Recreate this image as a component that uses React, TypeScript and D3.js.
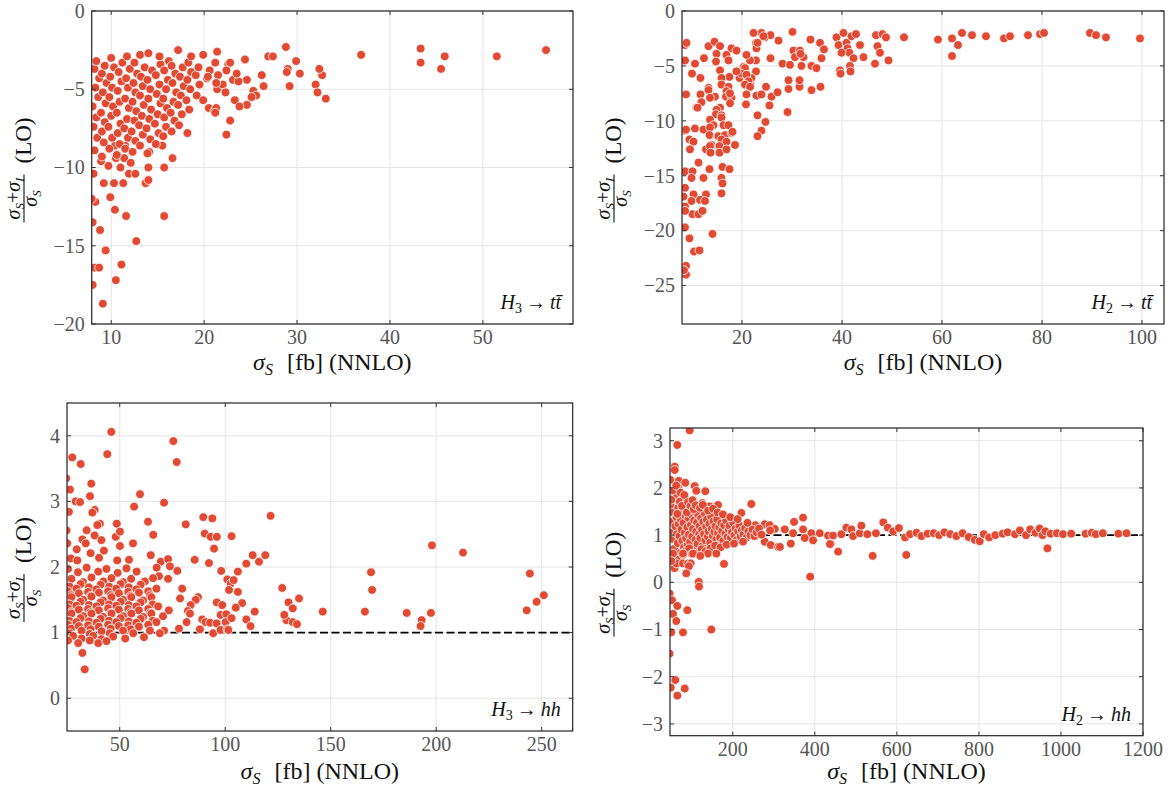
import React from 'react'
import * as d3 from 'd3'

type Pt = [number, number]

// H3 -> tt~ : sigma_S [fb] vs (sigma_S + sigma_I)/sigma_S
const h3ttPoints: Pt[] = [
  [9.1, -18.7], [10.5, -17.2], [11.1, -16.2], [8.2, -16.4], [8.7, -16.4], [8.0, -17.5], [9.4, -15.3], [12.7, -14.7],
  [8.8, -14.0], [8.0, -13.5], [11.6, -13.1], [15.7, -13.1], [10.4, -12.7], [8.3, -12.2], [9.9, -11.9], [7.9, -12.0],
  [9.2, -11.0], [10.3, -11.0], [11.3, -11.0], [13.7, -11.0], [14.0, -10.8], [8.1, -10.4], [11.9, -10.4], [12.6, -10.4],
  [11.0, -10.0], [14.0, -10.0], [15.7, -10.0], [16.6, -9.4], [10.5, -9.4], [11.4, -9.4], [12.1, -9.7], [14.1, -9.0],
  [8.9, -9.6], [9.7, -9.9], [15.5, -8.6], [11.5, -8.6], [10.4, -8.6],
  [8.2, -8.9], [8.5, -8.1], [8.1, -7.4], [8.4, -6.8], [8.0, -6.1], [8.6, -5.5], [8.3, -4.9], [8.7, -4.3], [8.2, -3.7], [8.4, -3.2],
  [9.0, -9.3], [9.2, -8.4], [9.0, -7.7], [9.3, -7.1], [8.9, -6.5], [9.4, -5.9], [9.1, -5.2], [9.5, -4.6], [9.0, -4.0], [9.3, -3.5],
  [9.8, -8.8], [10.1, -8.1], [9.7, -7.4], [10.0, -6.7], [10.2, -6.1], [9.8, -5.5], [10.1, -4.9], [9.9, -4.2], [10.3, -3.6], [10.0, -3.0],
  [10.6, -9.2], [10.9, -8.5], [10.7, -7.8], [11.0, -7.2], [10.6, -6.5], [10.9, -5.8], [10.7, -5.1], [11.1, -4.5], [10.8, -3.9], [11.2, -3.3],
  [11.5, -8.8], [11.8, -8.1], [11.4, -7.5], [11.7, -6.9], [11.9, -6.2], [11.5, -5.6], [11.8, -4.9], [11.6, -4.3], [12.0, -3.7], [11.7, -2.9],
  [12.3, -9.0], [12.6, -8.3], [12.2, -7.7], [12.5, -7.0], [12.7, -6.4], [12.3, -5.8], [12.6, -5.2], [12.4, -4.6], [12.8, -4.0], [12.5, -3.3],
  [13.1, -8.6], [13.4, -7.9], [13.0, -7.3], [13.3, -6.7], [13.5, -6.0], [13.1, -5.4], [13.4, -4.8], [13.2, -4.2], [13.6, -3.6], [13.1, -2.8],
  [13.9, -9.1], [14.2, -8.2], [13.8, -7.5], [14.1, -6.9], [14.3, -6.3], [14.0, -5.6], [14.2, -5.0], [13.9, -4.4], [14.4, -3.8], [14.0, -2.7],
  [14.8, -8.5], [15.1, -7.8], [14.7, -7.2], [15.0, -6.6], [15.3, -5.9], [14.9, -5.3], [15.2, -4.7], [14.8, -4.1], [15.3, -3.4], [15.2, -2.9],
  [15.6, -8.0], [15.9, -7.4], [15.7, -6.8], [16.0, -6.2], [15.6, -5.6], [15.9, -5.0], [16.1, -4.4], [15.7, -3.8], [16.2, -3.2],
  [16.5, -7.7], [16.8, -7.0], [16.4, -6.5], [16.7, -5.8], [17.0, -5.2], [16.6, -4.6], [16.9, -4.0], [16.5, -3.5],
  [17.3, -7.3], [17.6, -6.6], [17.2, -6.0], [17.5, -5.4], [17.8, -4.8], [17.4, -4.2], [17.7, -3.6], [17.2, -2.5],
  [18.2, -7.8], [18.4, -6.3], [18.1, -5.7], [18.5, -5.0], [18.2, -4.4], [18.6, -3.9], [18.3, -3.3], [18.6, -2.9],
  [19.2, -5.4], [19.5, -4.7], [19.1, -4.1], [19.4, -3.6], [19.9, -2.8], [19.9, -5.7], [20.5, -6.2], [20.3, -4.3], [20.6, -3.8],
  [21.1, -6.4], [21.4, -5.0], [21.2, -3.3], [21.4, -2.6], [22.0, -4.7], [22.3, -5.2], [22.6, -3.4], [22.8, -7.0], [22.4, -7.9],
  [23.3, -5.7], [23.1, -4.4],
  [26.2, -4.1], [26.4, -4.8], [25.3, -5.1], [25.6, -5.4], [25.1, -5.5], [24.6, -6.0], [23.8, -6.1],
  [24.6, -4.4], [23.7, -4.5], [23.5, -4.0], [22.8, -3.3], [22.4, -3.8], [21.5, -4.1], [21.3, -4.6], [20.4, -4.2],
  [21.3, -6.2], [21.2, -6.5], [24.4, -3.1], [26.9, -2.9], [27.4, -2.9], [28.8, -2.3], [29.9, -3.2], [29.0, -3.7],
  [28.9, -3.9], [29.2, -4.8], [30.3, -4.0], [32.0, -4.7], [32.2, -5.2], [32.7, -4.1], [33.1, -5.6], [32.4, -3.7],
  [36.9, -2.8], [43.3, -2.4], [43.3, -3.3], [45.5, -3.7], [45.9, -2.9], [51.5, -2.9], [56.8, -2.5],
]

// H2 -> tt~
const h2ttPoints: Pt[] = [
  [8.6, -3.1], [8.9, -2.9], [13.3, -3.2], [14.5, -2.8], [15.6, -3.2], [17.9, -3.4], [18.9, -3.6], [22.8, -2.9],
  [23.9, -2.0], [24.6, -2.4], [25.7, -2.2], [27.3, -2.7], [30.1, -1.9], [33.7, -2.6], [35.6, -2.9], [36.4, -3.5],
  [22.3, -2.0], [24.3, -2.3], [22.9, -3.4], [23.1, -2.9], [30.3, -3.6], [31.6, -3.6], [32.3, -4.2], [30.6, -4.2],
  [31.7, -3.9], [35.9, -4.3], [28.1, -4.8], [29.6, -4.9], [31.9, -5.0], [33.9, -5.0], [34.9, -5.2], [25.7, -4.3],
  [22.8, -4.5], [21.6, -4.5], [20.9, -4.0], [16.9, -4.0], [17.3, -4.5], [14.9, -3.9], [14.8, -4.6], [12.4, -4.3],
  [8.6, -4.5], [10.6, -4.8], [15.6, -5.4], [10.0, -5.7], [11.7, -6.1], [20.3, -5.1], [19.5, -6.1], [21.6, -6.6],
  [22.8, -5.5], [21.9, -6.1], [20.6, -5.2], [19.9, -5.7], [18.9, -5.5], [20.9, -5.8], [21.3, -6.4], [20.6, -6.7],
  [21.6, -6.9], [17.5, -6.0], [15.9, -6.1], [15.9, -6.7], [17.3, -6.9], [16.9, -7.3], [16.8, -7.8], [17.9, -7.9],
  [17.6, -8.4], [17.6, -7.5], [14.6, -7.8], [13.3, -7.0], [13.3, -7.2], [13.6, -7.9], [11.7, -7.6], [11.9, -8.3],
  [10.9, -8.8], [11.1, -8.8], [8.8, -7.6], [20.9, -7.6], [20.8, -8.5], [22.9, -7.7], [23.9, -7.6], [24.8, -6.9],
  [25.9, -7.8], [27.1, -7.4], [25.5, -8.6], [29.3, -7.1], [31.5, -6.9], [29.3, -6.3], [31.5, -6.3], [33.9, -7.2],
  [35.7, -6.9], [29.1, -9.2], [23.1, -9.5], [24.7, -10.1], [23.9, -10.9], [23.1, -11.4], [15.6, -8.8], [14.9, -9.0],
  [14.8, -9.4], [15.9, -9.5], [15.9, -9.7], [13.6, -9.9], [14.3, -10.4], [16.3, -10.4], [17.3, -10.4], [10.6, -10.7],
  [8.6, -10.9], [8.8, -10.8], [12.3, -10.8], [13.6, -10.6], [13.5, -11.3], [15.1, -11.4], [15.3, -11.4], [16.6, -11.3],
  [17.9, -11.1], [18.1, -11.0], [15.9, -11.7], [16.9, -11.9], [9.5, -11.7], [10.3, -11.9], [9.6, -12.6], [12.8, -12.6],
  [13.9, -12.2], [13.6, -12.3], [15.5, -12.3], [13.7, -12.9], [15.5, -12.9], [16.9, -12.6], [18.6, -12.2], [11.3, -13.8],
  [13.5, -14.4], [16.1, -14.2], [17.5, -14.4], [8.6, -14.6], [10.1, -14.6], [9.9, -15.2], [12.3, -15.2], [15.9, -15.2],
  [16.1, -15.7], [8.6, -16.1], [15.9, -16.6], [10.3, -16.7], [12.8, -16.7], [8.3, -16.9], [9.9, -17.3], [11.6, -17.2],
  [12.6, -17.3], [8.6, -17.8], [10.1, -18.5], [11.3, -18.5], [12.1, -18.2], [8.6, -18.2], [8.6, -19.7], [9.5, -20.7],
  [14.1, -20.3], [10.4, -21.9], [11.5, -21.8], [8.8, -23.2], [8.8, -24.0], [8.4, -23.6],
  [38.9, -2.4], [39.3, -3.1], [40.3, -2.0], [40.9, -2.9], [41.1, -3.4], [41.5, -3.8], [41.9, -2.3], [42.3, -4.3],
  [39.9, -3.8], [39.6, -5.4], [39.7, -5.7], [41.6, -5.0], [41.7, -5.5], [42.8, -2.1], [43.6, -3.1], [44.3, -4.2],
  [46.8, -2.2], [47.1, -3.2], [47.6, -3.8], [46.6, -4.8], [48.1, -2.1], [48.8, -2.4], [49.3, -4.5], [52.4, -2.4],
  [59.2, -2.6], [62.0, -2.5], [62.0, -4.1], [63.2, -3.1], [64.0, -2.0], [66.0, -2.2], [68.8, -2.3], [72.4, -2.5],
  [73.6, -2.3], [77.2, -2.2], [79.6, -2.1], [80.4, -2.0], [89.6, -2.0], [90.8, -2.2], [92.8, -2.4], [99.6, -2.5],
]

// H3 -> hh
const h3hhPoints: Pt[] = [
  [27.5, 3.67], [31.5, 3.57], [44.1, 3.72], [75.4, 3.92], [77.0, 3.60], [46.0, 4.06], [24.6, 3.35], [36.5, 3.27],
  [26.4, 3.18], [35.9, 3.08], [59.6, 3.11], [29.1, 3.0], [31.2, 2.99], [71.0, 2.98], [56.8, 2.92], [25.9, 2.84],
  [38.1, 2.87], [37.0, 2.83], [63.4, 2.69], [48.6, 2.66], [81.3, 2.65], [89.6, 2.76], [93.9, 2.74], [65.9, 2.49],
  [40.6, 2.66], [39.4, 2.64], [34.3, 2.56], [24.8, 2.56], [25.1, 2.36], [48.1, 2.46], [50.1, 2.54], [38.1, 2.48],
  [41.3, 2.41], [32.3, 2.42], [33.9, 2.36], [50.1, 2.32], [56.3, 2.36], [90.3, 2.51], [93.1, 2.46], [96.0, 2.46],
  [94.7, 2.28], [29.6, 2.27], [42.5, 2.25], [36.2, 2.21], [64.7, 2.18], [48.8, 2.10], [54.4, 2.11], [40.2, 2.14],
  [26.8, 2.13], [29.9, 2.10], [69.4, 2.08], [72.9, 2.12], [67.5, 1.99], [73.8, 2.01], [85.5, 2.11], [92.3, 2.06],
  [77.3, 1.94], [68.6, 1.86], [72.9, 1.82], [98.1, 1.94], [101.0, 1.81], [102.6, 1.75], [101.8, 1.65], [79.6, 1.67],
  [87.1, 1.54], [86.0, 1.50], [83.6, 1.42], [78.6, 1.52], [96.0, 1.46], [98.6, 1.42], [82.3, 1.33], [83.3, 1.29],
  [73.3, 1.34], [97.8, 1.27], [100.5, 1.28], [81.7, 1.16], [89.1, 1.20], [90.7, 1.16], [92.8, 1.15], [95.9, 1.14],
  [100.2, 1.16], [78.1, 1.06], [88.0, 1.05], [94.3, 0.99], [97.8, 1.04], [101.0, 1.05], [71.0, 1.03], [61.5, 0.93],
  [32.3, 0.69], [33.4, 0.44],
  [25.5, 1.97], [30.2, 1.92], [34.3, 1.99], [39.8, 1.93], [43.7, 1.97], [49.0, 1.91], [53.2, 1.98], [58.0, 1.93],
  [27.1, 1.82], [32.6, 1.77], [36.6, 1.84], [42.2, 1.78], [46.1, 1.83], [51.6, 1.77], [55.4, 1.82], [61.9, 1.78], [65.8, 1.83],
  [26.2, 1.70], [31.4, 1.74], [35.4, 1.69], [40.9, 1.73], [45.0, 1.70], [50.4, 1.74], [54.3, 1.69], [59.9, 1.73],
  [25.4, 1.63], [29.5, 1.67], [35.0, 1.62], [39.0, 1.66], [44.5, 1.63], [48.4, 1.67], [54.0, 1.62], [57.9, 1.66], [63.5, 1.63], [67.4, 1.67],
  [26.9, 1.57], [30.6, 1.60], [36.2, 1.56], [40.1, 1.61], [45.7, 1.57], [49.6, 1.60], [55.1, 1.56], [59.1, 1.61], [64.4, 1.57],
  [27.1, 1.54], [32.7, 1.50], [36.6, 1.55], [42.1, 1.49], [46.1, 1.54], [51.6, 1.50], [55.5, 1.54], [61.1, 1.49], [65.0, 1.54],
  [26.1, 1.43], [31.4, 1.47], [35.4, 1.42], [40.9, 1.46], [44.9, 1.43], [50.4, 1.47], [54.3, 1.42], [59.9, 1.46], [65.6, 1.43],
  [25.6, 1.37], [29.5, 1.41], [35.0, 1.36], [39.0, 1.40], [44.5, 1.37], [48.4, 1.41], [54.0, 1.36], [57.9, 1.40], [63.5, 1.36], [68.2, 1.40],
  [26.9, 1.31], [30.6, 1.35], [36.2, 1.31], [40.1, 1.34], [45.7, 1.30], [49.6, 1.35], [55.1, 1.31], [59.1, 1.34], [64.4, 1.30],
  [27.1, 1.29], [32.7, 1.25], [36.6, 1.29], [42.1, 1.24], [46.1, 1.29], [51.6, 1.25], [55.5, 1.29], [61.1, 1.24], [65.0, 1.29], [70.5, 1.25],
  [26.1, 1.18], [31.4, 1.22], [35.4, 1.17], [40.9, 1.21], [44.9, 1.18], [50.4, 1.22], [54.3, 1.17], [59.9, 1.21], [65.6, 1.18],
  [25.6, 1.12], [29.5, 1.16], [35.0, 1.11], [39.0, 1.15], [44.5, 1.12], [48.4, 1.16], [54.0, 1.11], [57.9, 1.15], [63.5, 1.12], [67.4, 1.16],
  [26.9, 1.06], [30.6, 1.10], [36.2, 1.05], [40.1, 1.09], [45.7, 1.06], [49.6, 1.10], [55.1, 1.05], [59.1, 1.09],
  [26.4, 0.99], [31.9, 1.03], [35.8, 0.98], [41.4, 1.02], [45.3, 0.99], [51.6, 1.03], [56.4, 0.99], [64.3, 1.03], [69.0, 0.99],
  [27.9, 0.95], [31.9, 0.91], [37.4, 0.95], [41.3, 0.90], [46.9, 0.94], [52.6, 0.91],
  [25.5, 0.88], [30.3, 0.84], [35.8, 0.88], [39.8, 0.84], [43.7, 0.87],
  [103.0, 2.47], [106.0, 1.93], [110.0, 2.05], [113.0, 2.18], [108.0, 1.45], [110.0, 1.20], [114.0, 1.32], [112.0, 1.10],
  [121.5, 2.78], [119.0, 2.18], [116.0, 2.08], [104.0, 1.80], [106.0, 1.62], [105.0, 1.38], [103.0, 1.22], [127.0, 1.68],
  [130.0, 1.46], [132.0, 1.37], [129.0, 1.19], [132.0, 1.16], [134.0, 1.13], [135.0, 1.52], [128.0, 1.27], [101.5, 1.04],
  [146.2, 1.32], [166.2, 1.32], [169.1, 1.92], [169.6, 1.65], [186.0, 1.30], [193.1, 1.19], [192.6, 1.10], [197.5, 1.30],
  [198.0, 2.33], [212.7, 2.22], [242.9, 1.34], [247.6, 1.47], [244.4, 1.90], [251.0, 1.57],
]

// H2 -> hh
const h2hhPoints: Pt[] = [
  [95, 3.22], [64.8, 2.91], [58.5, 2.45], [58.5, 2.38], [48, 2.17], [68.2, 2.15], [84.4, 2.11], [66.5, 2.01],
  [107.2, 2.04], [111.2, 1.94], [133.1, 1.93], [54.3, 1.74], [82.9, 1.81], [245.3, 1.66], [164.1, 1.64], [125.8, 1.68],
  [143.8, 1.61], [97.5, 1.57], [74.6, 1.53], [119.4, 1.57], [160, 1.47], [221, 1.47],
  [349.4, 1.28], [371.4, 1.37], [233, 1.23], [255, 1.21], [278, 1.23], [290, 1.21], [302.4, 1.13], [326.8, 1.12],
  [347, 1.04], [371.4, 1.12], [391.7, 1.04], [412.1, 1.04], [432.3, 0.99], [444.5, 0.99], [464.8, 1.02], [477, 1.16],
  [489.2, 1.12], [493.3, 0.98], [509.7, 1.04], [513.6, 1.20], [528.2, 1.02], [278, 0.86], [292.6, 0.79], [310.4, 0.75],
  [341.4, 0.82], [375.5, 0.94], [395.8, 0.89], [439, 0.82], [456.8, 0.65], [388.7, 0.12], [437, 0.81], [315, 0.75],
  [291, 1.10], [541, 0.56],
  [49, 1.62], [52, 1.28], [53, 0.92], [55, 1.48], [56, 1.07], [57, 0.71], [59, 1.85], [60, 1.19], [61, 0.55], [63, 1.38],
  [64, 1.02], [66, 0.83], [67, 1.58], [68, 1.24], [70, 0.98], [71, 1.71], [72, 0.62], [74, 1.33], [75, 1.12], [77, 0.88],
  [78, 1.52], [80, 1.26], [81, 0.74], [83, 1.05], [84, 1.42], [86, 0.93], [87, 1.68], [89, 1.17], [90, 0.79], [92, 1.36],
  [93, 1.01], [95, 1.55], [96, 0.86], [98, 1.22], [99, 1.44], [101, 0.97], [103, 1.13], [104, 0.69], [106, 1.31], [108, 1.5],
  [109, 0.9], [111, 1.08], [113, 1.27], [114, 0.82], [116, 1.43], [118, 1.02], [119, 1.19], [121, 0.94], [123, 1.36], [125, 1.11],
  [126, 0.76], [128, 1.28], [130, 1.02], [132, 1.46], [133, 0.89], [135, 1.18], [137, 1.33], [139, 0.97], [141, 1.08], [143, 1.24],
  [145, 0.84], [147, 1.4], [149, 1.13], [151, 0.99], [153, 1.29], [155, 1.07], [158, 1.19], [160, 0.91], [162, 1.34], [164, 1.04],
  [167, 1.16], [169, 0.95], [172, 1.25], [174, 1.09], [177, 0.88], [179, 1.21], [182, 1.02], [184, 1.31], [187, 0.96], [190, 1.12],
  [192, 1.2], [195, 0.93], [198, 1.06], [201, 1.27], [204, 1.0], [207, 1.14], [210, 0.9], [213, 1.08], [216, 1.2], [219, 0.97],
  [222, 1.1], [226, 1.02], [230, 1.15], [234, 0.95], [238, 1.08], [243, 1.0], [248, 1.12], [253, 0.98], [258, 1.06], [264, 1.14],
  [270, 1.01], [50, 1.75], [51, 0.45], [54, 1.95], [58, 0.3], [62, 2.05], [65, 1.45], [69, 0.48], [73, 1.9], [76, 1.62],
  [79, 0.58], [82, 1.85], [85, 0.66], [88, 1.48], [91, 1.7], [94, 0.72], [97, 1.62], [100, 0.6], [102, 1.74], [105, 1.55],
  [110, 1.63], [115, 0.62], [120, 1.58], [124, 0.7], [127, 1.64], [134, 0.66], [140, 1.52], [146, 0.72], [152, 1.56], [157, 0.78],
  [163, 1.48], [170, 0.74], [176, 1.44], [185, 0.8], [194, 1.38], [203, 0.82], [212, 1.34], [225, 0.86], [236, 1.26],
  [54.3, 0.61], [78.7, 0.61], [103.1, 0.61], [139.7, 0.61], [160, 0.61], [120.9, 0.56], [62.4, 0.40], [78.7, 0.40],
  [90.9, 0.40], [97.5, 0.40], [93, 0.34], [86.8, 0.19], [178.7, 0.39], [50, 0.45], [117, 0.01], [117.7, -0.09],
  [46, -0.24], [51.9, -0.38], [64.8, -0.50], [89.2, -0.59], [54.3, -0.67], [62.4, -0.82], [147.7, -1.0], [50.2, -1.06],
  [78.7, -1.06], [46, -1.51], [60, -2.07], [48.7, -2.23], [82.9, -2.25], [64.8, -2.40],
  [549, 1.04], [567, 1.27], [578, 1.16], [591, 1.08], [605, 1.15], [623, 0.58], [620, 0.95], [632, 1.02],
  [648, 1.05], [660, 0.98], [675, 1.03], [690, 1.04], [703, 1.0], [716, 1.06], [730, 1.02], [745, 0.98],
  [760, 1.04], [775, 0.96], [790, 0.9], [802, 0.87], [812, 1.02], [825, 0.95], [840, 1.0], [858, 1.03],
  [870, 1.06], [888, 1.02], [900, 1.1], [915, 1.0], [925, 1.12], [938, 1.05], [948, 1.14], [955, 1.0],
  [962, 1.08], [967, 0.72], [975, 1.03], [990, 1.04], [1005, 1.02], [1025, 1.03], [1060, 1.03], [1075, 1.05],
  [1085, 1.02], [1102, 1.04], [1140, 1.03], [1160, 1.04],
]

const h3ttXTicks = [10, 20, 30, 40, 50]
const h3ttYTicks = [0, -5, -10, -15, -20]
const h2ttXTicks = [20, 40, 60, 80, 100]
const h2ttYTicks = [0, -5, -10, -15, -20, -25]
const h3hhXTicks = [50, 100, 150, 200, 250]
const h3hhYTicks = [0, 1, 2, 3, 4]
const h2hhXTicks = [200, 400, 600, 800, 1000, 1200]
const h2hhYTicks = [-3, -2, -1, 0, 1, 2, 3]

const FONT = '"Liberation Serif", "DejaVu Serif", serif'
const RED = '#e24a33'

const panels = [
  {
    id: 'h3tt', points: h3ttPoints, xTicks: h3ttXTicks, yTicks: h3ttYTicks,
    xDomain: [7.9, 59.7], yDomain: [-20, 0],
    box: { left: 91.7, top: 11, right: 573, bottom: 324 },
    labelX: 24, titleY: 370, ann: ['H', '3', 't'], refLine: null,
  },
  {
    id: 'h2tt', points: h2ttPoints, xTicks: h2ttXTicks, yTicks: h2ttYTicks,
    xDomain: [8, 104.4], yDomain: [-28.5, 0],
    box: { left: 682, top: 11, right: 1164, bottom: 324 },
    labelX: 614, titleY: 370, ann: ['H', '2', 't'], refLine: null,
  },
  {
    id: 'h3hh', points: h3hhPoints, xTicks: h3hhXTicks, yTicks: h3hhYTicks,
    xDomain: [25, 264.7], yDomain: [-0.5, 4.5],
    box: { left: 67, top: 403, right: 572.7, bottom: 731 },
    labelX: 24, titleY: 779, ann: ['H', '3', 'h'], refLine: 1,
  },
  {
    id: 'h2hh', points: h2hhPoints, xTicks: h2hhXTicks, yTicks: h2hhYTicks,
    xDomain: [47, 1200], yDomain: [-3.25, 3.27],
    box: { left: 670, top: 428, right: 1143, bottom: 735.7 },
    labelX: 614, titleY: 779, ann: ['H', '2', 'h'], refLine: 1,
  },
]

const fmt = (v: number) => (v < 0 ? '\u2212' + Math.abs(v) : String(v))

function Panel({ p }: { p: any }) {
  const { box } = p
  const x = d3.scaleLinear().domain(p.xDomain).range([box.left, box.right])
  const y = d3.scaleLinear().domain(p.yDomain).range([box.bottom, box.top])
  const w = box.right - box.left
  const h = box.bottom - box.top
  const cy = (box.top + box.bottom) / 2
  const cx = (box.left + box.right) / 2
  const tickLen = 4
  const xt = p.xTicks.filter((t: number) => x(t) <= box.right + 0.5)
  return (
    <g>
      <defs>
        <clipPath id={'clip-' + p.id}>
          <rect x={box.left} y={box.top} width={w} height={h} />
        </clipPath>
      </defs>
      {/* grid */}
      {xt.map((t: number) => (
        <line key={'gx' + t} x1={x(t)} x2={x(t)} y1={box.top} y2={box.bottom} stroke="#e5e5e5" strokeWidth={1} />
      ))}
      {p.yTicks.map((t: number) => (
        <line key={'gy' + t} x1={box.left} x2={box.right} y1={y(t)} y2={y(t)} stroke="#e5e5e5" strokeWidth={1} />
      ))}
      {p.refLine !== null && (
        <line x1={box.left} x2={box.right} y1={y(p.refLine)} y2={y(p.refLine)}
          stroke="#000" strokeWidth={1.8} strokeDasharray="8,3.5" />
      )}
      {/* points */}
      <g clipPath={`url(#clip-${p.id})`}>
        {p.points.map((d: Pt, i: number) => (
          <circle key={i} cx={x(d[0])} cy={y(d[1])} r={4.4} fill={RED} stroke="#fff" strokeWidth={0.8} />
        ))}
      </g>
      {/* frame */}
      <rect x={box.left} y={box.top} width={w} height={h} fill="none" stroke="#222" strokeWidth={1.2} />
      {/* inward ticks on all sides */}
      {xt.map((t: number) => (
        <g key={'tx' + t} stroke="#333" strokeWidth={1}>
          <line x1={x(t)} x2={x(t)} y1={box.bottom} y2={box.bottom - tickLen} />
          <line x1={x(t)} x2={x(t)} y1={box.top} y2={box.top + tickLen} />
        </g>
      ))}
      {p.yTicks.map((t: number) => (
        <g key={'ty' + t} stroke="#333" strokeWidth={1}>
          <line x1={box.left} x2={box.left + tickLen} y1={y(t)} y2={y(t)} />
          <line x1={box.right} x2={box.right - tickLen} y1={y(t)} y2={y(t)} />
        </g>
      ))}
      {/* tick labels */}
      {xt.map((t: number) => (
        <text key={'lx' + t} x={x(t)} y={box.bottom + 20} textAnchor="middle" fontSize={20} fill="#555" fontFamily={FONT}>
          {fmt(t)}
        </text>
      ))}
      {p.yTicks.map((t: number) => (
        <text key={'ly' + t} x={box.left - 7} y={y(t)} dy="0.34em" textAnchor="end" fontSize={20} fill="#555" fontFamily={FONT}>
          {fmt(t)}
        </text>
      ))}
      {/* x title */}
      <text x={cx} y={p.titleY} textAnchor="middle" fontSize={24} fontFamily={FONT} fill="#111">
        <tspan fontStyle="italic">σ</tspan>
        <tspan fontSize={16} dy={5} fontStyle="italic">S</tspan>
        <tspan dy={-5} dx={14}>[fb] (NNLO)</tspan>
      </text>
      {/* y title: fraction (sigma_S + sigma_I)/sigma_S (LO) */}
      <g transform={`translate(${p.labelX},${cy}) rotate(-90)`} fontFamily={FONT} fill="#111">
        <text x={-31} y={-4} textAnchor="middle" fontSize={20}>
          <tspan fontStyle="italic">σ</tspan>
          <tspan fontSize={13} dy={4} fontStyle="italic">S</tspan>
          <tspan dy={-4}>+</tspan>
          <tspan fontStyle="italic">σ</tspan>
          <tspan fontSize={13} dy={4} fontStyle="italic">I</tspan>
        </text>
        <line x1={-55} x2={-7} y1={0} y2={0} stroke="#111" strokeWidth={1.1} />
        <text x={-31} y={13} textAnchor="middle" fontSize={20}>
          <tspan fontStyle="italic">σ</tspan>
          <tspan fontSize={13} dy={4} fontStyle="italic">S</tspan>
        </text>
        <text x={4} y={7} fontSize={23}>(LO)</text>
      </g>
      {/* annotation */}
      <text x={box.right - 12} y={box.bottom - 15} textAnchor="end" fontSize={20} fontFamily={FONT} fill="#111">
        <tspan fontStyle="italic">{p.ann[0]}</tspan>
        <tspan fontSize={14} dy={4}>{p.ann[1]}</tspan>
        <tspan dy={-4} dx={4}>→</tspan>
        <tspan dx={4} fontStyle="italic">{p.ann[2] === 't' ? 't' : 'hh'}</tspan>
        {p.ann[2] === 't' && <tspan fontStyle="italic">{'t\u0304'}</tspan>}
      </text>
    </g>
  )
}

export default function App() {
  return (
    <svg width={1172} height={795} style={{ position: 'absolute', left: 0, top: 0, background: '#fff' }}>
      {panels.map((p) => (
        <Panel key={p.id} p={p} />
      ))}
    </svg>
  )
}
